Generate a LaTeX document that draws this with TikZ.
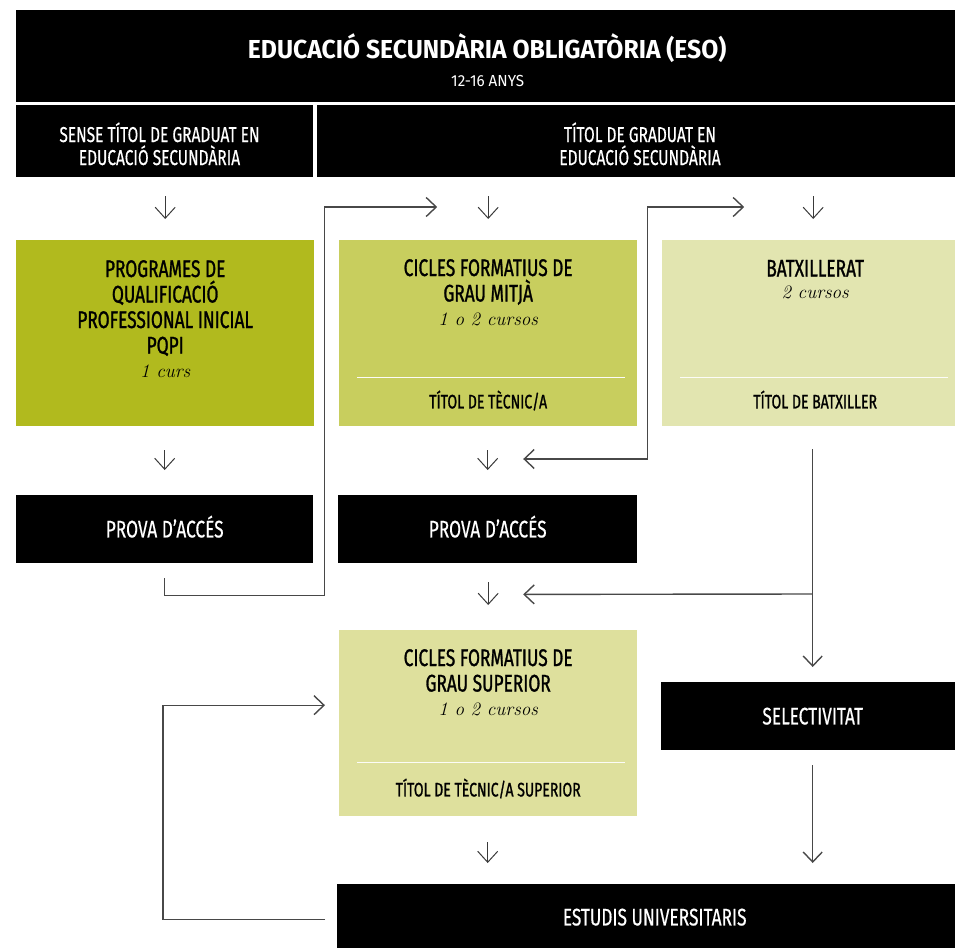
\documentclass[tikz,border=0pt]{standalone}
\usepackage{fontspec}
\newfontfamily\condsans{Fira Sans}[FakeStretch=0.72, FakeBold=1.1]
\newfontfamily\condsanslight{Fira Sans}[FakeStretch=0.72, FakeBold=0.4]
\newfontfamily\headsans{Fira Sans}[FakeStretch=0.95]
\usetikzlibrary{arrows.meta, positioning, calc}
\definecolor{pqpigreen}{RGB}{177,186,30}
\definecolor{mitjagreen}{RGB}{200,206,94}
\definecolor{batxgreen}{RGB}{226,229,176}
\definecolor{supgreen}{RGB}{222,224,157}
\definecolor{conngray}{RGB}{72,72,72}
\tikzset{
    blackbox/.style={rectangle, fill=black, text=white, inner sep=0pt, anchor=north west, font=\condsanslight\fontsize{24}{26}\selectfont, text height=16.5pt, text depth=0pt},
    greenbox/.style={rectangle, inner sep=0pt, anchor=north west},
    headtext/.style={anchor=base, inner sep=0pt, align=center, text=white},
    boxtitle/.style={anchor=base, inner sep=0pt, align=center, font=\condsans\fontsize{24}{25.5}\selectfont},
    boxlabel/.style={anchor=base, inner sep=0pt, font=\condsans\fontsize{19.5}{21}\selectfont},
    sepline/.style={draw=white!90!batxgreen, line width=1.2pt},
    arrow/.style={draw=conngray, line width=1.4pt, -{Straight Barb[length=10pt, width=19pt]}},
    twoway/.style={draw=conngray, line width=1.4pt, {Straight Barb[length=10pt, width=19pt]}-{Straight Barb[length=10pt, width=19pt]}},
    smallarrow/.style={draw=conngray!80!black, line width=1pt, -{Straight Barb[length=11pt, width=20pt]}}
}

\begin{document}
\begin{tikzpicture}[x=1pt, y=-1pt]
\useasboundingbox (0,0) rectangle (955,947);

% capcalera
\node[blackbox, minimum width=942pt, minimum height=92pt] (eso) at (16,10) {};
\node[headtext, font=\headsans\bfseries\fontsize{26}{28}\selectfont] (esotitle) at ($(eso.north)+(0,49)$) {EDUCACIÓ SECUNDÀRIA OBLIGATÒRIA (ESO)};
\node[headtext, font=\headsans\fontsize{16}{18}\selectfont] (esoyears) at ($(eso.north)+(0.5,77)$) {12-16 ANYS};
\node[blackbox, minimum width=297pt, minimum height=72pt] (sense) at (16,105) {};
\node[blackbox, minimum width=646pt, minimum height=72pt] (titol) at (317,105) {};
\node[headtext, font=\condsanslight\fontsize{21.5}{23}\selectfont] (sensetext) at (159.5,165) {SENSE TÍTOL DE GRADUAT EN\\EDUCACIÓ SECUNDÀRIA};
\node[headtext, font=\condsanslight\fontsize{21.5}{23}\selectfont] (titoltext) at (640,165) {TÍTOL DE GRADUAT EN\\EDUCACIÓ SECUNDÀRIA};

% estudis
\node[greenbox, fill=pqpigreen, minimum width=298pt, minimum height=186pt] (pqpi) at (16,240) {};
\node[greenbox, fill=mitjagreen, minimum width=298pt, minimum height=186pt] (mitja) at (339,240) {};
\node[greenbox, fill=batxgreen, minimum width=306pt, minimum height=186pt] (batx) at (662,240) {};
\node[blackbox, minimum width=297pt, minimum height=68pt] (prova1) at (16,495) {PROVA D’ACCÉS};
\node[blackbox, minimum width=299pt, minimum height=68pt] (prova2) at (338,495) {PROVA D’ACCÉS};
\node[greenbox, fill=supgreen, minimum width=298pt, minimum height=186pt] (sup) at (339,630) {};
\node[blackbox, minimum width=303pt, minimum height=68pt] (selec) at (661,682) {SELECTIVITAT};
\node[blackbox, minimum width=635pt, minimum height=66pt] (estudis) at (337,884) {ESTUDIS UNIVERSITARIS};

% textos de les caixes
\node[boxtitle] (pqpititle) at ($(pqpi.north)+(0,137)$) {PROGRAMES DE\\QUALIFICACIÓ\\PROFESSIONAL INICIAL\\PQPI\\[-2pt]{\normalfont\fontsize{19}{20}\selectfont\itshape 1 curs}};
\node[boxtitle] (mitjatitle) at ($(mitja.north)+(0,85)$) {CICLES FORMATIUS DE\\GRAU MITJÀ\\[-2pt]{\normalfont\fontsize{19}{20}\selectfont\itshape 1 o 2 cursos}};
\node[boxtitle] (batxtitle) at ($(batx.north)+(0,58)$) {BATXILLERAT\\[-4pt]{\normalfont\fontsize{19}{20}\selectfont\itshape 2 cursos}};
\node[boxtitle] (suptitle) at ($(sup.north)+(0,85)$) {CICLES FORMATIUS DE\\GRAU SUPERIOR\\[-2pt]{\normalfont\fontsize{19}{20}\selectfont\itshape 1 o 2 cursos}};
\draw[sepline] ($(mitja.south west)+(18,-49)$) -- ($(mitja.south east)+(-12,-49)$);
\draw[sepline] ($(batx.south west)+(18,-49)$) -- ($(batx.south east)+(-20,-49)$);
\draw[sepline] ($(sup.south west)+(18,-54)$) -- ($(sup.south east)+(-12,-54)$);
\node[boxlabel] (mitjalabel) at ($(mitja.south)+(0,-18)$) {TÍTOL DE TÈCNIC/A};
\node[boxlabel] (batxlabel) at ($(batx.south)+(0,-18)$) {TÍTOL DE BATXILLER};
\node[boxlabel] (suplabel) at ($(sup.south)+(0,-20)$) {TÍTOL DE TÈCNIC/A SUPERIOR};

% fletxes curtes
\draw[smallarrow] ($(pqpi.north)+(0,-44)$) -- ($(pqpi.north)+(0,-21)$);
\draw[smallarrow] ($(mitja.north)+(0,-44)$) -- ($(mitja.north)+(0,-21)$);
\draw[smallarrow] ($(batx.north)+(-2,-44)$) -- ($(batx.north)+(-2,-21)$);
\draw[smallarrow] ($(prova1.north)+(0,-45)$) -- ($(prova1.north)+(0,-25)$);
\draw[smallarrow] ($(prova2.north)+(0,-45)$) -- ($(prova2.north)+(0,-25)$);
\draw[smallarrow] ($(sup.north)+(0,-48)$) -- ($(sup.north)+(0,-25)$);
\draw[smallarrow] ($(estudis.north)+(-167,-42)$) -- ($(estudis.north)+(-167,-21)$);

% connexions
\coordinate (p1out) at ($(prova1.south)+(0,15)$);
\coordinate (mitjain) at ($(mitja.north)+(-51,-33)$);
\coordinate (prova2in) at ($(prova2.north)+(35.5,-36)$);
\coordinate (batxin) at ($(batx.north)+(-71,-33)$);
\coordinate (batxout) at ($(selec.north |- batx.south)+(0,23)$);
\coordinate (joint) at ($(selec.north)+(0,-88)$);
\coordinate (sup2in) at ($(prova2.south)+(35.5,31)$);
\coordinate (estout) at ($(estudis.west)+(-12,2)$);
\coordinate (supin) at ($(sup.west)+(-14,-18)$);
\draw[arrow] (p1out) |- ($(p1out)+(160,17)$) |- (mitjain);
\draw[twoway] (prova2in) -| ($(mitja.east)+(10,0)$) |- (batxin);
\draw[arrow] (batxout) -- ($(selec.north)+(0,-15)$);
\draw[arrow] (joint) -- (sup2in);
\draw[arrow] ($(selec.south)+(0,15)$) -- ($(estudis.north -| selec.south)+(0,-21)$);
\draw[arrow] (estout) -- ++(-162,0) |- (supin);
\end{tikzpicture}
\end{document}
